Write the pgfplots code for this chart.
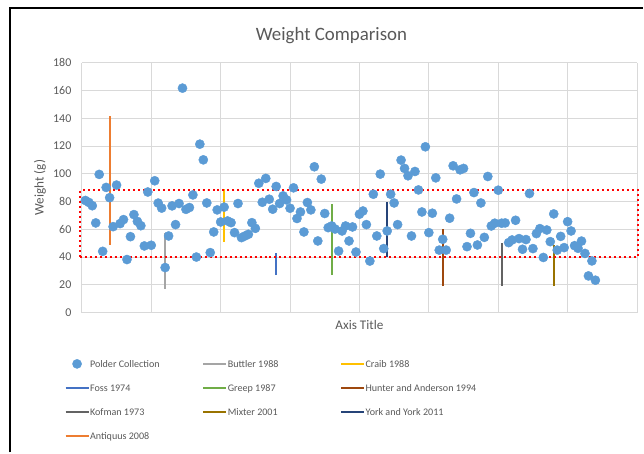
\documentclass[border=0pt]{standalone}
\usepackage{pgfplots}
\pgfplotsset{compat=1.18}
\usepackage{fontspec}
\setmainfont{Carlito}
\definecolor{txt}{HTML}{595959}
\definecolor{gridc}{HTML}{D9D9D9}
\definecolor{polder}{HTML}{5B9BD5}
\definecolor{buttler}{HTML}{A5A5A5}
\definecolor{craib}{HTML}{FFC000}
\definecolor{foss}{HTML}{4472C4}
\definecolor{greep}{HTML}{70AD47}
\definecolor{hunter}{HTML}{9E480E}
\definecolor{kofman}{HTML}{636363}
\definecolor{mixter}{HTML}{997300}
\definecolor{york}{HTML}{264478}
\definecolor{antiquus}{HTML}{ED7D31}
\pgfplotsset{
  linelegend/.style={legend image code/.code={\draw[##1, line width=2pt] (0pt,0pt) -- (23pt,0pt);}},
  dotlegend/.style={legend image code/.code={\draw[##1] plot coordinates {(11.5pt,0pt)};}},
}
\newcommand{\LE}[1]{\makebox[112pt][l]{\rule[-3pt]{0pt}{11pt}#1}}
\begin{document}
\begin{tikzpicture}
\begin{axis}[
  name=ax, scale only axis, width=556pt, height=250pt,
  xmin=0, xmax=160, ymin=0, ymax=180,
  xtick={0,20,...,160}, xticklabels={}, ytick={0,20,...,180},
  grid=major, major grid style={draw=gridc, line width=1pt},
  axis line style={draw=none}, major tick length=0pt,
  tick label style={font=\fontsize{12}{14}\selectfont, text=txt},
  /pgf/number format/assume math mode=true,
  yticklabel style={xshift=-7pt},
  clip=false,
  title={Weight Comparison},
  title style={at={(axis description cs:0.4496,1.084)}, anchor=center, font=\fontsize{18.9}{22}\selectfont, text=txt},
  xlabel={Axis Title},
  xlabel style={at={(axis description cs:0.5,-0.048)}, anchor=center, font=\fontsize{13.2}{15}\selectfont, text=txt},
  ylabel={Weight (g)},
  ylabel style={at={(axis description cs:-0.0755,0.5)}, anchor=center, font=\fontsize{13.2}{15}\selectfont, text=txt},
  legend columns=3,
  legend cell align=left,
  legend style={at={(axis description cs:-0.0315,-0.184)}, anchor=north west, draw=none, fill=none,
    font=\fontsize{10.1}{12}\selectfont, text=txt, inner sep=0pt, row sep=13.7pt,
    nodes={inner sep=0.5pt}},
  linelegend,
]
\addplot[only marks, mark=*, mark size=4.6pt, mark options={fill=polder, draw=polder}, dotlegend] table {
x y
1 80.8
2 79.4
3 77.0
4 64.6
5 99.6
6 44.1
7 90.2
8 82.8
9 61.9
10 91.9
11 64.1
12 67.0
13 38.2
14 54.7
15 70.6
16 65.7
17 62.6
18 48.0
19 86.9
20 48.5
21 95.0
22 78.9
23 75.3
24 32.4
25 55.2
26 76.9
27 63.4
28 78.6
29 161.8
30 74.4
31 75.7
32 84.8
33 40.0
34 121.4
35 110.1
36 79.0
37 43.2
38 58.1
39 74.0
40 65.3
41 76.0
42 66.0
43 64.8
44 57.6
45 78.6
46 54.0
47 55.2
48 56.4
49 64.8
50 60.7
51 93.2
52 79.5
53 96.7
54 81.7
55 74.5
56 90.9
57 78.6
58 84.1
59 81.2
60 75.2
61 89.9
62 67.8
63 72.5
64 58.1
65 79.3
66 74.0
67 105.1
68 51.6
69 96.2
70 71.4
71 61.2
72 62.4
73 60.2
74 44.3
75 58.8
76 62.4
77 51.6
78 61.7
79 43.6
80 70.9
81 73.2
82 63.4
83 37.1
84 85.3
85 55.2
86 99.8
87 46.1
88 58.8
89 85.3
90 79.0
91 63.4
92 109.9
93 103.9
94 98.6
95 55.2
96 101.7
97 88.4
98 72.5
99 119.5
100 57.6
101 71.6
102 97.1
103 45.0
104 52.8
105 45.0
106 68.0
107 105.8
108 81.9
109 102.9
110 103.9
111 47.5
112 57.1
113 86.5
114 48.7
115 79.0
116 54.2
117 98.1
118 62.4
119 64.4
120 88.2
121 64.4
122 64.6
123 50.4
124 52.3
125 66.5
126 53.3
127 45.6
128 52.6
129 85.8
130 46.1
131 56.9
132 60.5
133 39.7
134 59.5
135 51.1
136 71.1
137 45.0
138 54.9
139 46.8
140 65.5
141 58.8
142 48.2
143 46.3
144 51.5
145 42.6
146 26.4
147 37.2
148 23.3
};
\addlegendentry{\LE{Polder Collection}}
\addplot[buttler, line width=2pt] coordinates {(24,17) (24,57)};
\addlegendentry{\LE{Buttler 1988}}
\addplot[craib, line width=2pt] coordinates {(41,51) (41,89)};
\addlegendentry{\LE{Craib 1988}}
\addplot[foss, line width=2pt] coordinates {(56,27) (56,43)};
\addlegendentry{\LE{Foss 1974}}
\addplot[greep, line width=2pt] coordinates {(72,27) (72,78)};
\addlegendentry{\LE{Greep 1987}}
\addplot[hunter, line width=2pt] coordinates {(104,19) (104,60)};
\addlegendentry{\LE{Hunter and Anderson 1994}}
\addplot[kofman, line width=2pt] coordinates {(121,19) (121,50)};
\addlegendentry{\LE{Kofman 1973}}
\addplot[mixter, line width=2pt] coordinates {(136,19) (136,49)};
\addlegendentry{\LE{Mixter 2001}}
\addplot[york, line width=2pt] coordinates {(88,40) (88,80)};
\addlegendentry{\LE{York and York 2011}}
\addplot[antiquus, line width=2pt] coordinates {(8,49) (8,142)};
\addlegendentry{\LE{Antiquus 2008}}
\addplot[red, line width=2pt, dash pattern=on 2pt off 3pt, forget plot] coordinates {(-0.6,40) (160.3,40) (160.3,88) (-0.6,88) (-0.6,40)};
\end{axis}
\path ([shift={(-82pt,313pt)}]ax.south west) rectangle ([shift={(562pt,-140pt)}]ax.south west);
\draw[black, line width=2pt] ([shift={(-72pt,-140pt)}]ax.south west) -- ([shift={(-72pt,305pt)}]ax.south west) -- ([shift={(562pt,305pt)}]ax.south west);
\end{tikzpicture}
\end{document}
